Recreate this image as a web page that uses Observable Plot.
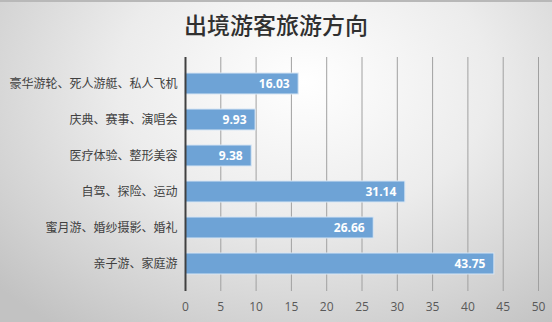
<!DOCTYPE html>
<html>
<head>
<meta charset="utf-8">
<script src="https://cdn.jsdelivr.net/npm/d3@7"></script>
<script src="https://cdn.jsdelivr.net/npm/@observablehq/plot@0.6"></script>
<style>
  html, body { margin: 0; padding: 0; }
  #wrap {
    width: 552px; height: 322px; overflow: hidden; position: relative;
    background: radial-gradient(ellipse 75% 95% at 55% 25%, #ffffff 0%, #ececec 45%, #d2d2d2 80%, #c2c2c2 100%);
    border-top: 2px solid #b8b8b8; box-sizing: border-box;
  }
  #title {
    height: 48px; line-height: 44px; text-align: center;
    font-family: "Noto Sans CJK SC", sans-serif; font-size: 23px; color: #303030; font-weight: 500;
  }
  svg { display: block; overflow: visible; }
</style>
</head>
<body>
<div id="wrap">
  <div id="title">出境游客旅游方向</div>
  <div id="chart"></div>
</div>
<script>
const categories = ["豪华游轮、死人游艇、私人飞机", "庆典、赛事、演唱会", "医疗体验、整形美容", "自驾、探险、运动", "蜜月游、婚纱摄影、婚礼", "亲子游、家庭游"];
const values = [16.03, 9.93, 9.38, 31.14, 26.66, 43.75];
const xTicks = [0, 5, 10, 15, 20, 25, 30, 35, 40, 45, 50];

const data = categories.map((c, i) => ({category: c, value: values[i]}));

const chart = Plot.plot({
  width: 552,
  height: 272,
  marginTop: 7,
  marginBottom: 31,
  marginLeft: 185,
  marginRight: 14,
  style: {background: "transparent", fontFamily: "'Noto Sans CJK SC', sans-serif", overflow: "visible"},
  x: {domain: [0, 50], ticks: xTicks},
  y: {domain: categories, padding: 0.41, label: null},
  marks: [
    Plot.ruleX(xTicks.filter(d => d > 0), {stroke: "#a0a0a0", strokeWidth: 1}),
    Plot.barX(data, {x: "value", y: "category", fill: "#6ea3d6", stroke: "#d8e6f4", strokeWidth: 1}),
    Plot.text(data, {x: "value", y: "category", text: d => d.value.toFixed(2), textAnchor: "end", dx: -9, fill: "white", fontWeight: "bold", fontSize: 12, fontFamily: "'Open Sans', sans-serif"}),
    Plot.ruleX([0], {stroke: "#404040", strokeWidth: 2}),
    Plot.axisY({tickSize: 0, tickPadding: 8, fontSize: 12, color: "#404040", label: null}),
    Plot.axisX({ticks: xTicks, tickSize: 0, tickPadding: 11, fontSize: 12, color: "#595959", label: null, fontFamily: "'Open Sans', sans-serif"})
  ]
});
document.getElementById("chart").appendChild(chart);
</script>
</body>
</html>
